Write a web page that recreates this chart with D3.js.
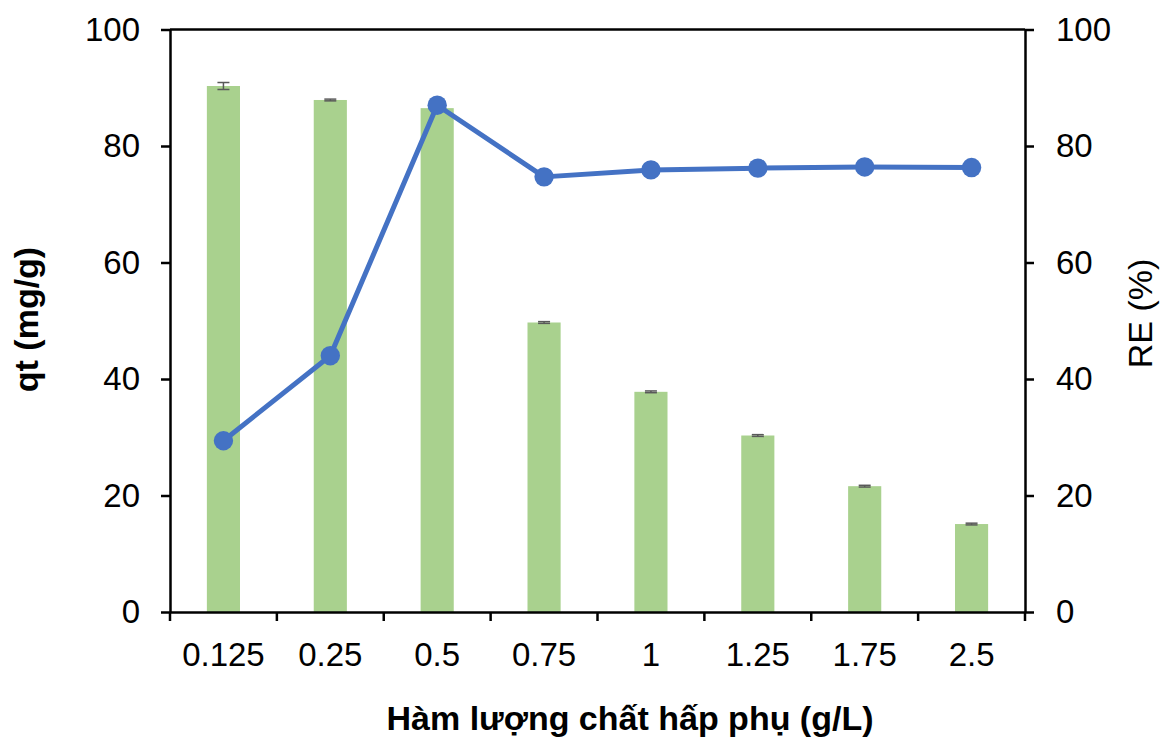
<!DOCTYPE html>
<html>
<head>
<meta charset="utf-8">
<script src="https://cdn.jsdelivr.net/npm/d3@7"></script>
<style>
  body { margin: 0; background: #fff; }
  text { font-family: "Liberation Sans", Arial, sans-serif; }
</style>
</head>
<body>
<svg id="chart"></svg>
<script>
// data
const categories = ['0.125', '0.25', '0.5', '0.75', '1', '1.25', '1.75', '2.5'];
const qtValues = [90.3, 87.9, 86.5, 49.7, 37.8, 30.3, 21.6, 15.1];
const qtErrors = [0.6, 0.15, 0.15, 0.15, 0.15, 0.15, 0.15, 0.15];
const reValues = [29.4, 44.0, 87.0, 74.7, 75.9, 76.2, 76.4, 76.3];
const yTicks = [0, 20, 40, 60, 80, 100];

const W = 1162, H = 743;
const margin = { top: 29.5, right: 137, bottom: 131, left: 170 };
const width = W - margin.left - margin.right;
const height = H - margin.top - margin.bottom;
const fs = 33;

const svg = d3.select('#chart')
  .attr('width', W)
  .attr('height', H)
  .append('g')
  .attr('transform', `translate(${margin.left}, ${margin.top})`);

const xScale = d3.scaleBand()
  .domain(categories)
  .range([0, width])
  .paddingInner(0.69)
  .paddingOuter(0.345);

const yLeft = d3.scaleLinear().domain([0, 100]).range([height, 0]);
const yRight = d3.scaleLinear().domain([0, 100]).range([height, 0]);

// bars
svg.selectAll('.bar')
  .data(qtValues)
  .enter()
  .append('rect')
  .attr('class', 'bar')
  .attr('x', (d, i) => xScale(categories[i]))
  .attr('y', d => yLeft(d))
  .attr('width', xScale.bandwidth())
  .attr('height', d => height - yLeft(d))
  .attr('fill', '#a9d18e');

// error bars
const errG = svg.append('g').attr('stroke', '#595959').attr('stroke-width', 1.5);
qtValues.forEach((v, i) => {
  const cx = xScale(categories[i]) + xScale.bandwidth() / 2;
  const y1 = yLeft(v + qtErrors[i]), y2 = yLeft(v - qtErrors[i]);
  errG.append('line').attr('x1', cx).attr('x2', cx).attr('y1', y1).attr('y2', y2);
  errG.append('line').attr('x1', cx - 6).attr('x2', cx + 6).attr('y1', y1).attr('y2', y1);
  errG.append('line').attr('x1', cx - 6).attr('x2', cx + 6).attr('y1', y2).attr('y2', y2);
});

// frame (top line)
svg.append('line')
  .attr('x1', 0).attr('x2', width).attr('y1', 0).attr('y2', 0)
  .attr('stroke', '#000').attr('stroke-width', 2.5);

// axes
const xAxisScale = d3.scaleBand().domain(categories).range([0, width]);
const xAxis = svg.append('g')
  .attr('transform', `translate(0, ${height})`)
  .call(d3.axisBottom(xAxisScale).tickSize(0).tickPadding(31));
xAxis.select('.domain').attr('stroke', '#000').attr('stroke-width', 2.5);
xAxis.selectAll('text').attr('font-size', fs).attr('fill', '#000');
// tick marks at category boundaries
svg.append('g')
  .selectAll('line')
  .data(d3.range(categories.length + 1))
  .enter()
  .append('line')
  .attr('x1', i => i * xAxisScale.step())
  .attr('x2', i => i * xAxisScale.step())
  .attr('y1', height)
  .attr('y2', height + 9)
  .attr('stroke', '#000')
  .attr('stroke-width', 2.5);

const yAxisL = svg.append('g')
  .call(d3.axisLeft(yLeft).tickValues(yTicks).tickSize(9).tickPadding(21).tickSizeOuter(0));
yAxisL.selectAll('.domain, line').attr('stroke', '#000').attr('stroke-width', 2.5);
yAxisL.selectAll('text').attr('font-size', fs).attr('fill', '#000');

const yAxisR = svg.append('g')
  .attr('transform', `translate(${width}, 0)`)
  .call(d3.axisRight(yRight).tickValues(yTicks).tickSize(9).tickPadding(22).tickSizeOuter(0));
yAxisR.selectAll('.domain, line').attr('stroke', '#000').attr('stroke-width', 2.5);
yAxisR.selectAll('text').attr('font-size', fs).attr('fill', '#000');

// RE line
const cxOf = i => xScale(categories[i]) + xScale.bandwidth() / 2;
const line = d3.line()
  .x((d, i) => cxOf(i))
  .y(d => yRight(d));

svg.append('path')
  .datum(reValues)
  .attr('d', line)
  .attr('fill', 'none')
  .attr('stroke', '#4472c4')
  .attr('stroke-width', 5)
  .attr('stroke-linejoin', 'round');

svg.selectAll('.dot')
  .data(reValues)
  .enter()
  .append('circle')
  .attr('class', 'dot')
  .attr('cx', (d, i) => cxOf(i))
  .attr('cy', d => yRight(d))
  .attr('r', 9.7)
  .attr('fill', '#4472c4');

// axis titles
svg.append('text')
  .attr('transform', `translate(${-132}, ${290}) rotate(-90)`)
  .attr('text-anchor', 'middle')
  .attr('font-size', 34)
  .attr('font-weight', 'bold')
  .text('qt (mg/g)');

svg.append('text')
  .attr('transform', `translate(${width + 127}, ${284}) rotate(-90)`)
  .attr('text-anchor', 'middle')
  .attr('font-size', 34)
  .text('RE (%)');

svg.append('text')
  .attr('x', 460)
  .attr('y', height + 118)
  .attr('text-anchor', 'middle')
  .attr('font-size', 34)
  .attr('font-weight', 'bold')
  .text('Hàm lượng chất hấp phụ (g/L)');
</script>
</body>
</html>
